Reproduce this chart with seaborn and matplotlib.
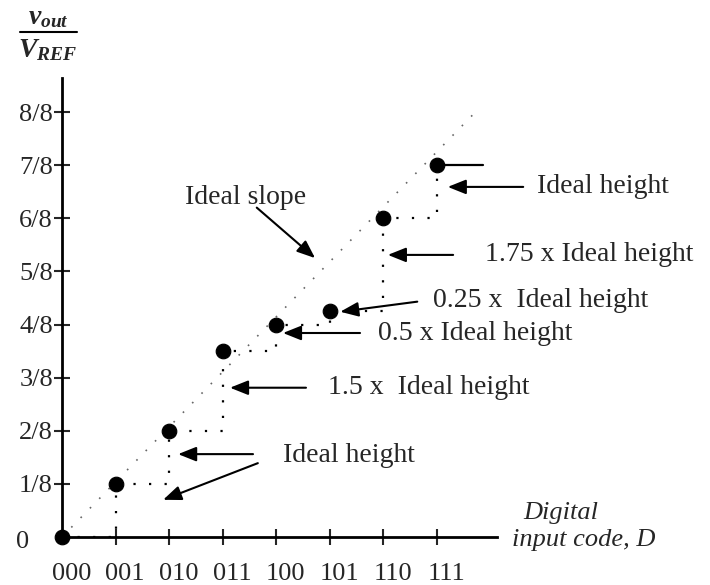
import numpy as np
import pandas as pd
import matplotlib
matplotlib.use("Agg")
import matplotlib.pyplot as plt
from matplotlib import transforms
from matplotlib.lines import Line2D
import seaborn as sns

# Data: 3-bit DAC transfer curve, output levels in units of V_REF/8
codes = ['000', '001', '010', '011', '100', '101', '110', '111']
levels = [0, 1, 2, 3.5, 4, 4.25, 6, 7]
ytick_labels = ['1/8', '2/8', '3/8', '4/8', '5/8', '6/8', '7/8', '8/8']
slope_x = [0, 7.68]
slope_y = [0, 7.95]

df = pd.DataFrame({'D': np.arange(len(codes)), 'vout': levels})

sns.set_style("white")
plt.rcParams['font.family'] = ['Liberation Serif', 'DejaVu Serif']
plt.rcParams['mathtext.fontset'] = 'custom'
plt.rcParams['mathtext.it'] = 'Liberation Serif:italic:bold'
plt.rcParams['mathtext.rm'] = 'Liberation Serif'

fig = plt.figure(figsize=(7.1, 5.85), dpi=100)
ax = fig.add_axes([62/710, 1 - 537/585, (497 - 62)/710, (537 - 78)/585])
ax.set_xlim(0, 8.13)
ax.set_ylim(0, 8.64)

# ideal slope (light dotted)
ax.plot(slope_x, slope_y, color='#666666', lw=1.2, ls=(0, (1, 7)), zorder=1)
# actual staircase (dotted)
ax.step(df.D, df.vout, where='post', color='black', lw=1.6, ls=(0, (1, 6)), zorder=1)
# reference line at top code
ax.plot([df.D.iloc[-1], 7.87], [df.vout.iloc[-1]] * 2, color='black', lw=1.6, zorder=2)
sns.scatterplot(data=df, x='D', y='vout', s=110, color='black', edgecolor='black',
                clip_on=False, zorder=5, ax=ax)

# axes look
for side in ['top', 'right']:
    ax.spines[side].set_visible(False)
for side in ['left', 'bottom']:
    ax.spines[side].set_linewidth(2)
    ax.spines[side].set_color('black')
ax.set_xticks(range(1, 8))
ax.set_xticklabels([])
ax.set_yticks(range(1, 9))
ax.set_yticklabels(ytick_labels)
ax.tick_params(axis='y', direction='inout', length=11, width=1.5, pad=1, labelsize=19, left=True)
ax.tick_params(axis='x', direction='inout', length=12, width=1.5, bottom=True)
ax.set_xlabel('')
ax.set_ylabel('')

# x tick labels, shifted slightly right like the original
shift = transforms.offset_copy(ax.get_xaxis_transform(), fig=fig, x=7, y=-19, units='points')
for i, c in enumerate(codes):
    ax.text(i, 0, c, transform=shift, ha='center', va='top', fontsize=19)
ax.text(-0.73, -0.1, '0', ha='center', va='center', fontsize=19)

# annotations: label, text position, arrow tail, arrow head
notes = [
    ('Ideal slope', (2.30, 6.40), (3.64, 6.20), (4.73, 5.25)),
    ('Ideal height', (8.88, 6.59), (8.62, 6.59), (7.21, 6.59)),
    ('1.75 x Ideal height', (7.91, 5.31), (7.31, 5.31), (6.09, 5.31)),
    ('0.25 x  Ideal height', (6.93, 4.46), (6.64, 4.43), (5.20, 4.24)),
    ('0.5 x Ideal height', (5.91, 3.84), (5.57, 3.84), (4.13, 3.84)),
    ('1.5 x  Ideal height', (4.97, 2.81), (4.56, 2.81), (3.14, 2.81)),
    ('Ideal height', (4.13, 1.54), (3.57, 1.56), (2.17, 1.56)),
]
arrow = dict(arrowstyle='-|>,head_length=0.55,head_width=0.22', mutation_scale=20,
             lw=1.5, color='black', shrinkA=0, shrinkB=0)
for label, txy, tail, head in notes:
    ax.annotate('', xy=head, xytext=tail, arrowprops=arrow, annotation_clip=False)
    ax.text(txy[0], txy[1], label, ha='left', va='center', fontsize=20, clip_on=False)
ax.annotate('', xy=(1.89, 0.70), xytext=(3.66, 1.39), arrowprops=arrow, annotation_clip=False)

# axis titles
fig.text(48/710, 1 - 18/585, r'$v_{out}$', ha='center', va='center', fontsize=20)
fig.add_artist(Line2D([20/710, 77/710], [1 - 32/585] * 2, color='black', lw=1.5))
fig.text(48/710, 1 - 50/585, r'$V_{REF}$', ha='center', va='center', fontsize=20)
fig.text(523/710, 1 - 513/585, 'Digital', ha='left', va='center', fontsize=19, style='italic')
fig.text(512/710, 1 - 540/585, 'input code, D', ha='left', va='center', fontsize=19, style='italic')

fig.savefig('out.png', dpi=100, facecolor='white')
